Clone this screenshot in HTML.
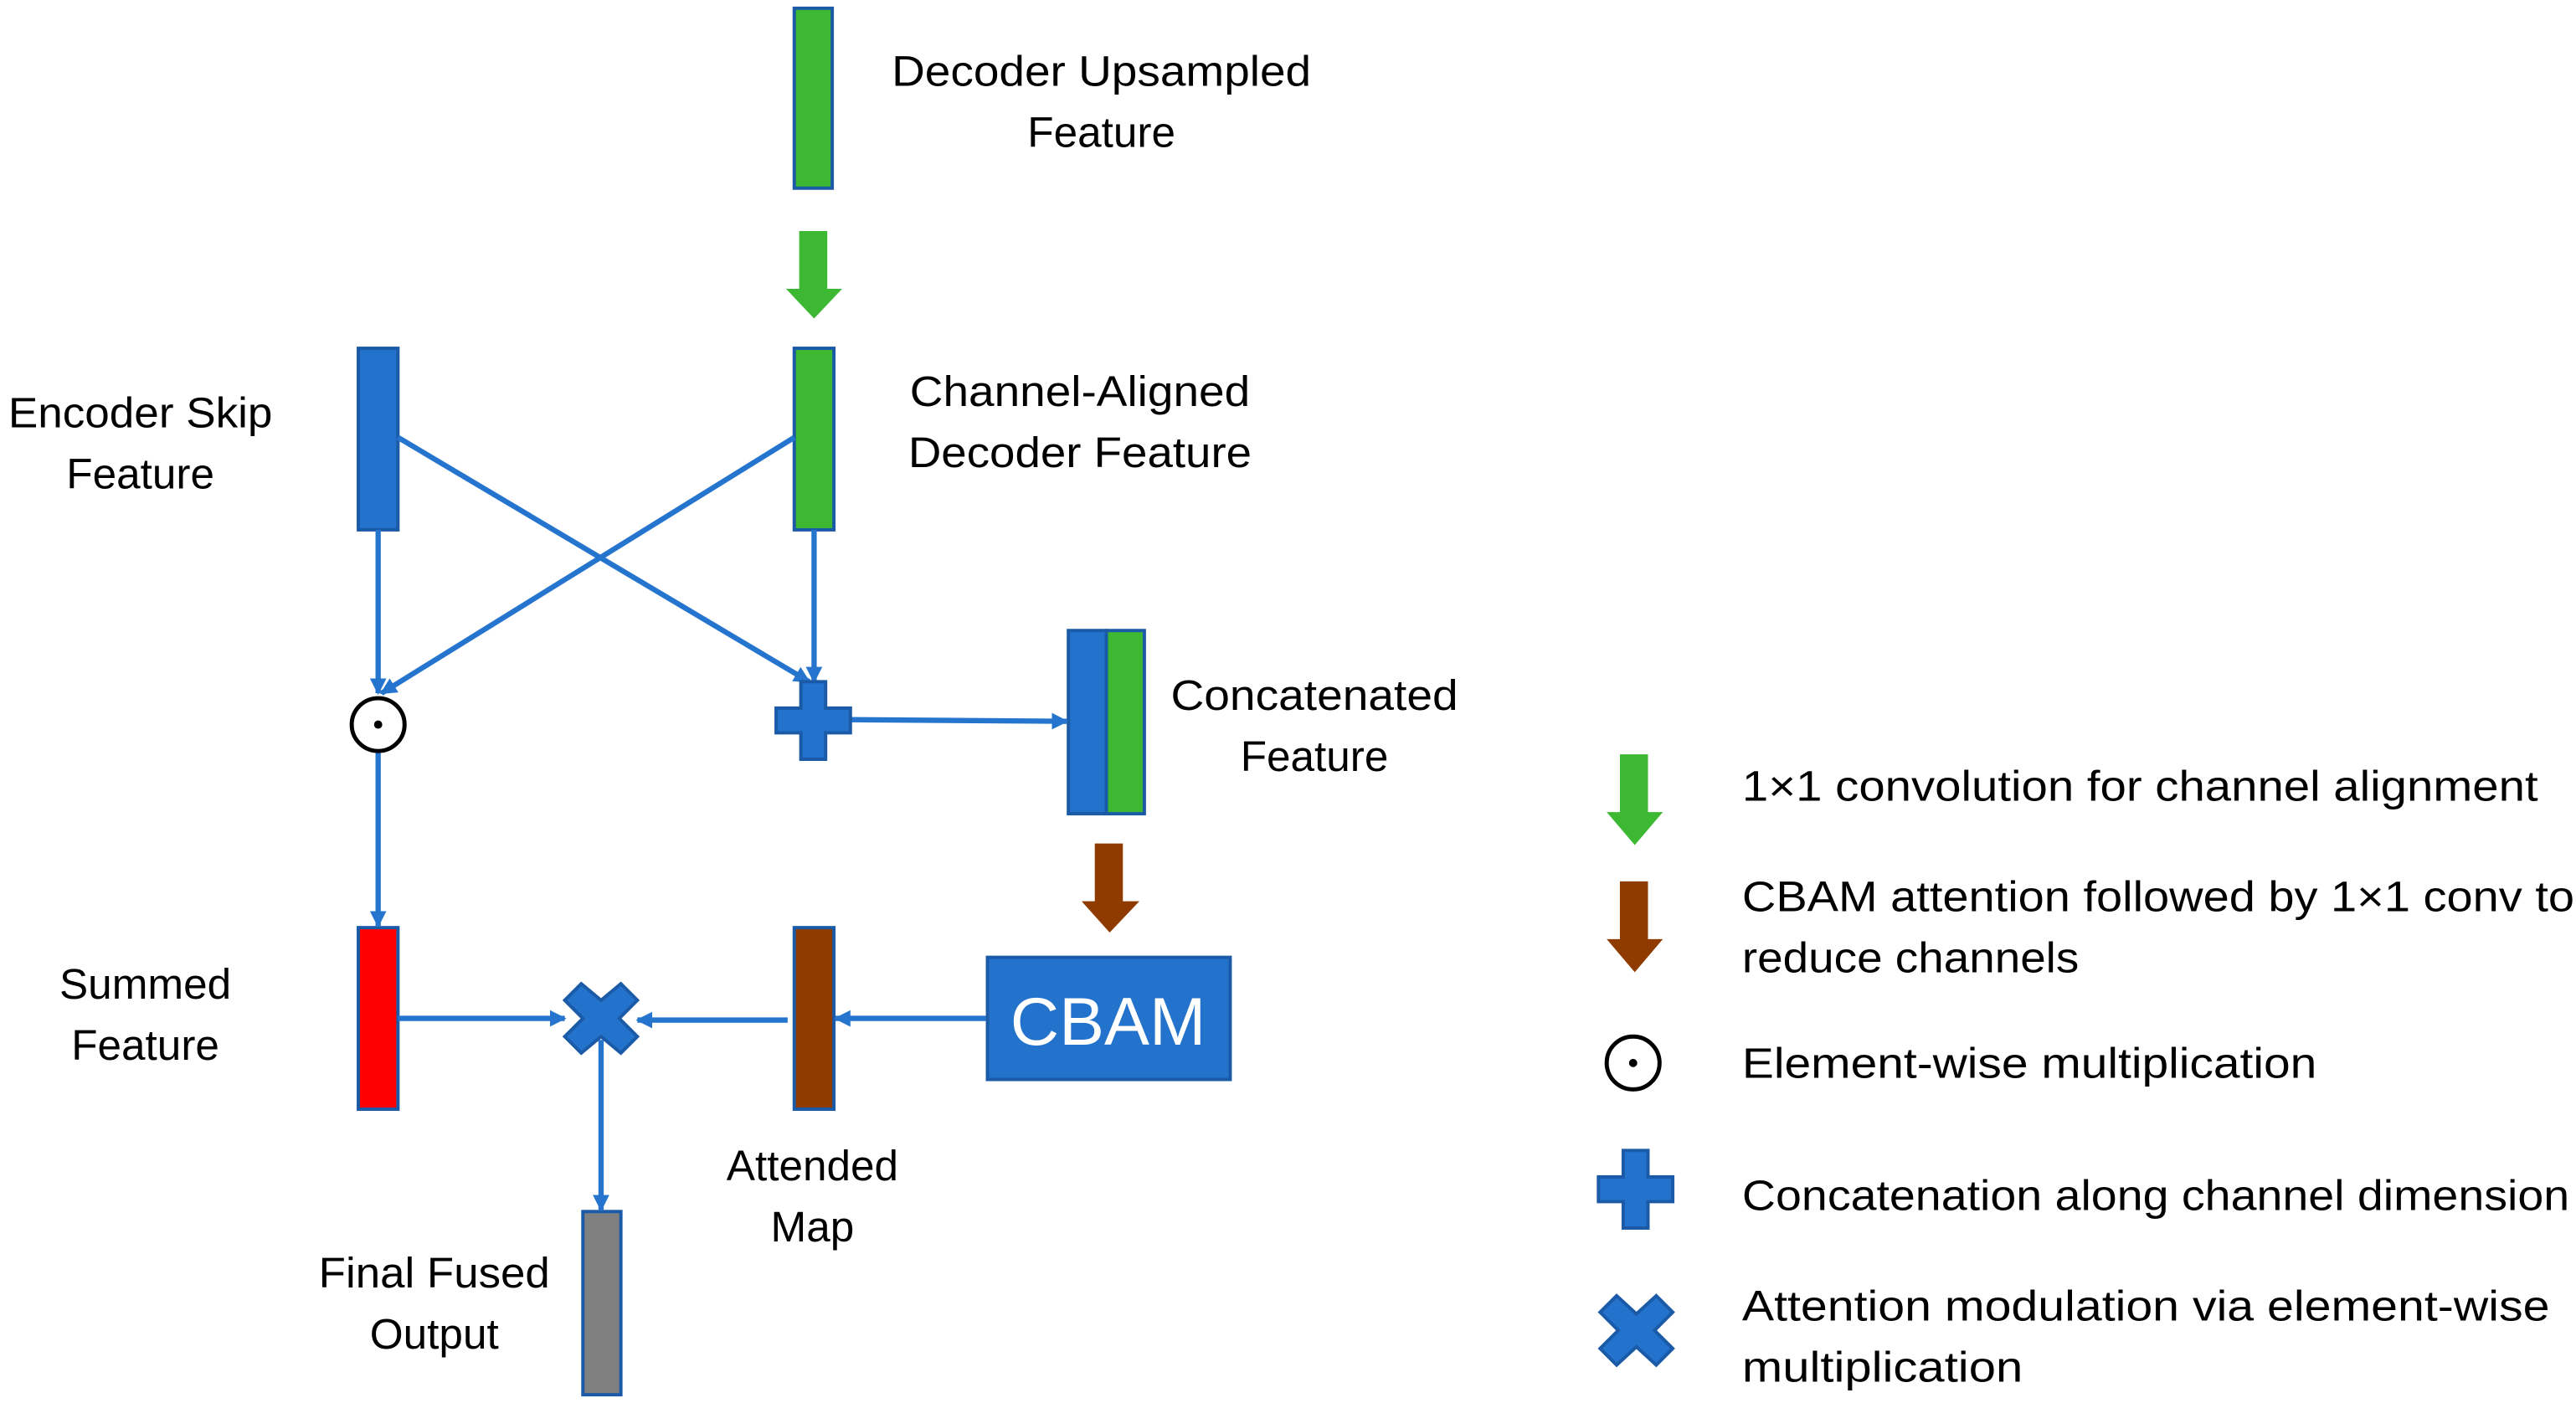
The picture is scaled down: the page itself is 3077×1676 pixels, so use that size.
<!DOCTYPE html>
<html><head><style>html,body{margin:0;padding:0;background:#fff;}svg{display:block}</style></head>
<body>
<svg width="3077" height="1676" viewBox="0 0 1560 850" preserveAspectRatio="none" xmlns="http://www.w3.org/2000/svg">
<defs>
<marker id="ah" markerWidth="10" markerHeight="10" refX="9" refY="5" orient="auto" markerUnits="userSpaceOnUse">
<path d="M0,0 L10,5 L0,10 z" fill="#2575cf"/></marker>
</defs>
<g font-family="'Liberation Sans', sans-serif" font-size="26" fill="#000">
<g stroke="#1a5aa6" stroke-width="2">
<rect x="481" y="5" width="23" height="109" fill="#3cb832"/>
<rect x="217" y="211" width="24" height="110" fill="#2372cc"/>
<rect x="481" y="211" width="24" height="110" fill="#3cb832"/>
<rect x="647" y="382" width="23" height="111" fill="#2372cc"/>
<rect x="670" y="382" width="23" height="111" fill="#3cb832"/>
<rect x="217" y="562" width="24" height="110" fill="#ff0000"/>
<rect x="481" y="562" width="24" height="110" fill="#8f3b00"/>
<rect x="353" y="734" width="23" height="111" fill="#808080"/>
<rect x="598" y="580" width="147" height="74" fill="#2372cc"/>
</g>
<text x="671" y="633" font-size="41" fill="#fff" text-anchor="middle">CBAM</text>
<g stroke="#2575cf" stroke-width="3.2" fill="none" marker-end="url(#ah)">
<line x1="241" y1="265" x2="490" y2="413"/>
<line x1="481" y1="265" x2="231" y2="420"/>
<line x1="229" y1="321" x2="229" y2="420"/>
<line x1="493" y1="321" x2="493" y2="413"/>
<line x1="515" y1="436" x2="646" y2="437"/>
<line x1="229" y1="456" x2="229" y2="561"/>
<line x1="597" y1="617" x2="506" y2="617"/>
<line x1="477" y1="618" x2="386" y2="618"/>
<line x1="241" y1="617" x2="342" y2="617"/>
<line x1="364" y1="630" x2="364" y2="733"/>
</g>
<circle cx="229" cy="439" r="16" fill="#fff" stroke="#000" stroke-width="2.5"/>
<circle cx="229" cy="439" r="2.5" fill="#000"/>
<path d="M485,413 h15 v16 h15 v15 h-15 v16 h-15 v-16 h-15 v-15 h15 z" fill="#2372cc" stroke="#1a5aa6" stroke-width="2"/>
<path d="M352,596 L364,606 L376,596 L386,606 L375,617 L386,628 L376,638 L364,628 L352,638 L342,628 L353,617 L342,606 z" fill="#2372cc" stroke="#1a5aa6" stroke-width="2"/>
<path d="M484,140 h17 v35 h9 l-17,18 l-17,-18 h8 z" fill="#3cb832"/>
<path d="M663,511 h17 v35 h10 l-18,19 l-17,-19 h8 z" fill="#8f3b00"/>
<g text-anchor="middle">
<text x="667" y="52" textLength="254" lengthAdjust="spacingAndGlyphs">Decoder Upsampled</text>
<text x="667" y="89">Feature</text>
<text x="85" y="259" textLength="160" lengthAdjust="spacingAndGlyphs">Encoder Skip</text>
<text x="85" y="296">Feature</text>
<text x="654" y="246" textLength="206" lengthAdjust="spacingAndGlyphs">Channel-Aligned</text>
<text x="654" y="283" textLength="208" lengthAdjust="spacingAndGlyphs">Decoder Feature</text>
<text x="796" y="430" textLength="174" lengthAdjust="spacingAndGlyphs">Concatenated</text>
<text x="796" y="467">Feature</text>
<text x="88" y="605">Summed</text>
<text x="88" y="642">Feature</text>
<text x="492" y="715">Attended</text>
<text x="492" y="752">Map</text>
<text x="263" y="780" textLength="140" lengthAdjust="spacingAndGlyphs">Final Fused</text>
<text x="263" y="817">Output</text>
</g>
<path d="M981,457 h17 v35 h9 l-17,20 l-17,-20 h8 z" fill="#3cb832"/>
<path d="M981,534 h17 v35 h9 l-17,20 l-17,-20 h8 z" fill="#8f3b00"/>
<circle cx="989" cy="644" r="16" fill="#fff" stroke="#000" stroke-width="2.5"/>
<circle cx="989" cy="644" r="2.5" fill="#000"/>
<path d="M983,697 h15 v16 h15 v15 h-15 v16 h-15 v-16 h-15 v-15 h15 z" fill="#2372cc" stroke="#1a5aa6" stroke-width="2"/>
<path d="M979,785 L991,796 L1003,785 L1013,795 L1002,806 L1013,817 L1003,827 L991,816 L979,827 L969,817 L980,806 L969,795 z" fill="#2372cc" stroke="#1a5aa6" stroke-width="2"/>
<text x="1055" y="485" textLength="482" lengthAdjust="spacingAndGlyphs">1×1 convolution for channel alignment</text>
<text x="1055" y="552" textLength="504" lengthAdjust="spacingAndGlyphs">CBAM attention followed by 1×1 conv to</text>
<text x="1055" y="589" textLength="204" lengthAdjust="spacingAndGlyphs">reduce channels</text>
<text x="1055" y="653" textLength="348" lengthAdjust="spacingAndGlyphs">Element-wise multiplication</text>
<text x="1055" y="733" textLength="501" lengthAdjust="spacingAndGlyphs">Concatenation along channel dimension</text>
<text x="1055" y="800" textLength="489" lengthAdjust="spacingAndGlyphs">Attention modulation via element-wise</text>
<text x="1055" y="837" textLength="170" lengthAdjust="spacingAndGlyphs">multiplication</text>
</g>
</svg>
</body></html>
